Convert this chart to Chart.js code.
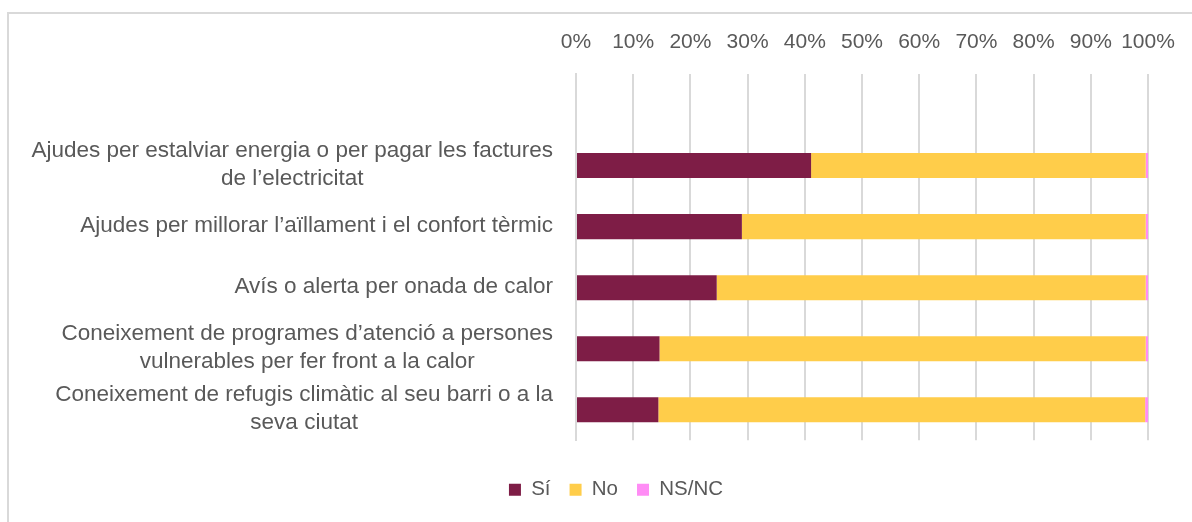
<!DOCTYPE html>
<html>
<head>
<meta charset="utf-8">
<script src="https://cdn.jsdelivr.net/npm/chart.js@4.4.1/dist/chart.umd.min.js"></script>
<style>
  html, body { margin: 0; padding: 0; background: #fff; }
  #wrap { position: relative; width: 1192px; height: 522px; overflow: hidden; }
  #frame { position: absolute; left: 7px; top: 12px; right: -5px; bottom: -5px;
           border-left: 2px solid #d9d9d9; border-top: 2px solid #d9d9d9; }
  canvas { position: absolute; left: 0; top: 0; }
</style>
</head>
<body>
<div id="wrap">
  <div id="frame"></div>
  <canvas id="myChart" width="1192" height="522"></canvas>
</div>
<script>
// first row of the sheet is empty, that's why the top band has no bar
const categories = [
    [],
    ['Ajudes per estalviar energia o per pagar les factures', 'de l’electricitat'],
    ['Ajudes per millorar l’aïllament i el confort tèrmic'],
    ['Avís o alerta per onada de calor'],
    ['Coneixement de programes d’atenció a persones', 'vulnerables per fer front a la calor'],
    ['Coneixement de refugis climàtic al seu barri o a la', 'seva ciutat']
];
const si = [null, 41.1, 29.0, 24.6, 14.6, 14.4];
const no = [null, 58.5, 70.6, 75.0, 85.0, 85.1];
const nsnc = [null, 0.4, 0.4, 0.4, 0.4, 0.5];
const xTicks = [0, 10, 20, 30, 40, 50, 60, 70, 80, 90, 100];

const FONT_FAMILY = '"Liberation Sans", Arial, sans-serif';
const TEXT = '#595959';

// category labels: block right aligned, lines centred on each other
const yLabels = {
    id: 'yLabels',
    afterDraw(chart) {
        const ctx = chart.ctx;
        const y = chart.scales.y;
        ctx.save();
        ctx.font = '22.5px ' + FONT_FAMILY;
        ctx.fillStyle = TEXT;
        ctx.textAlign = 'center';
        ctx.textBaseline = 'middle';
        categories.forEach((lines, i) => {
            if (!lines.length) return;
            const w = Math.max(...lines.map(l => ctx.measureText(l).width));
            const cx = y.right - 23 - w / 2;
            const cy = y.getPixelForValue(i) - 1;
            lines.forEach((l, k) => {
                ctx.fillText(l, cx, cy + (k - (lines.length - 1) / 2) * 28);
            });
        });
        ctx.restore();
    }
};

let myChart = document.getElementById('myChart').getContext('2d');
let surveyChart = new Chart(myChart, {
    type: 'bar',
    data: {
        labels: categories.map(l => l.join(' ')),
        datasets: [
            { label: 'Sí', data: si, backgroundColor: '#7e1d46' },
            { label: 'No', data: no, backgroundColor: '#ffcd4a' },
            { label: 'NS/NC', data: nsnc, backgroundColor: '#ff8cf5' }
        ]
    },
    options: {
        indexAxis: 'y',
        responsive: false,
        animation: false,
        layout: { padding: { left: 84, right: 44, top: 0, bottom: 12 } },
        datasets: {
            bar: { barPercentage: 0.41, categoryPercentage: 1, borderWidth: 0 }
        },
        scales: {
            x: {
                position: 'top',
                stacked: true,
                min: 0,
                max: 100,
                afterBuildTicks: s => { s.ticks = xTicks.map(v => ({ value: v })); },
                afterFit: s => {
                    s.height = 74;
                    // labels may overhang the plot, the outer padding already leaves room
                    s.paddingLeft = 0;
                    s.paddingRight = 0;
                },
                grid: { color: '#d9d9d9', lineWidth: 2, drawTicks: false },
                border: { display: false },
                ticks: {
                    padding: 19,
                    color: TEXT,
                    autoSkip: false,
                    maxRotation: 0,
                    minRotation: 0,
                    font: { family: FONT_FAMILY, size: 21 },
                    callback: v => v + '%'
                }
            },
            y: {
                stacked: true,
                afterFit: s => { s.width = 492; },
                grid: { display: false },
                border: { color: '#d9d9d9', width: 2 },
                ticks: { display: false }
            }
        },
        plugins: {
            tooltip: { enabled: false },
            legend: {
                position: 'bottom',
                title: { display: true, text: '', padding: { top: 19, bottom: 0 }, font: { size: 1 } },
                labels: {
                    boxWidth: 12,
                    boxHeight: 12,
                    padding: 19,
                    color: TEXT,
                    font: { family: FONT_FAMILY, size: 20.5 }
                }
            }
        }
    },
    plugins: [yLabels]
});
</script>
</body>
</html>
